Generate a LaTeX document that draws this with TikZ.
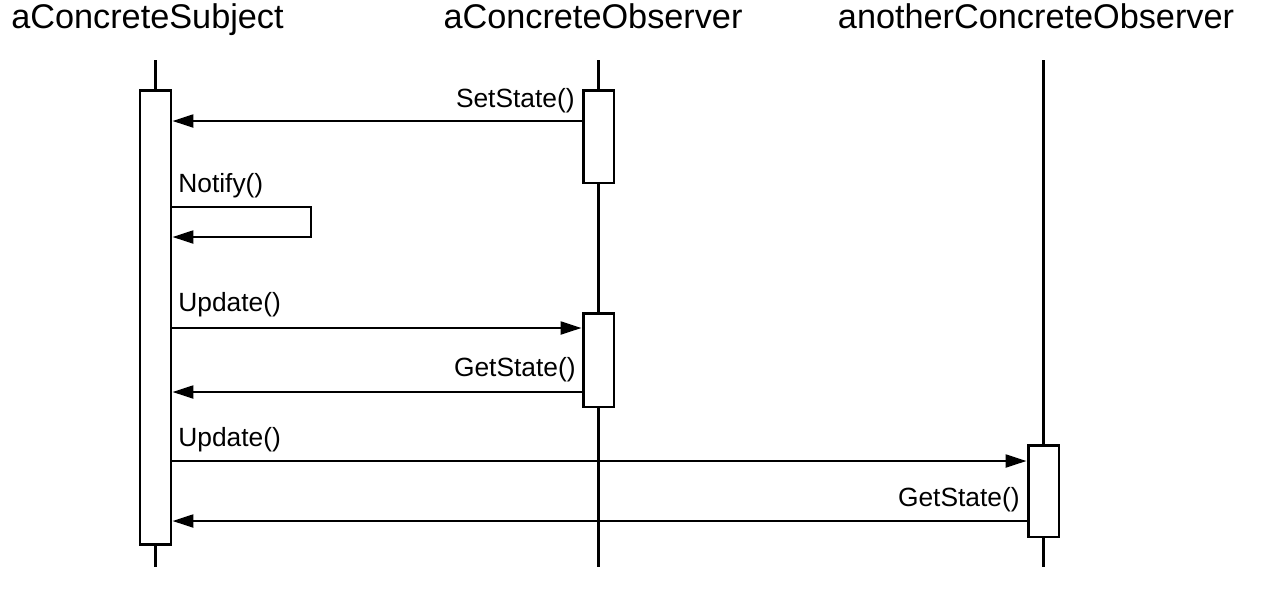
\documentclass[tikz,border=0pt]{standalone}
\usepackage{fontspec}
\setmainfont{Liberation Sans}
\usetikzlibrary{arrows.meta}
\begin{document}
\begin{tikzpicture}[x=0.02cm,y=-0.02cm,
  life/.style={line width=1.3pt},
  actbox/.style={draw,fill=white,line width=1.7pt,minimum width=0.62cm,inner sep=0pt},
  msg/.style={line width=1.3pt,-{Triangle[length=4.2mm,width=2.6mm]}},
  objname/.style={font=\fontsize{19.5}{23}\selectfont,anchor=base,inner sep=0pt},
  lbl/.style={font=\fontsize{15}{18}\selectfont,inner sep=0pt}]
\useasboundingbox (0,0) rectangle (1262,593);
% object names
\node[objname] (nsubj) at (147.5,28) {aConcreteSubject};
\node[objname] (nobs) at (593,28) {aConcreteObserver};
\node[objname] (nanother) at (1036,28) {anotherConcreteObserver};
% lifelines
\coordinate (subjtop) at (155.5,60);
\coordinate (subjbot) at (155.5,567);
\coordinate (obstop) at (598.5,60);
\coordinate (obsbot) at (598.5,567);
\coordinate (anotop) at (1043.5,60);
\coordinate (anobot) at (1043.5,567);
\draw[life] (subjtop) -- (subjbot);
\draw[life] (obstop) -- (obsbot);
\draw[life] (anotop) -- (anobot);
% activations
\node[actbox,minimum height=9.1cm] (subj) at (155.5,317.5) {};
\node[actbox,minimum height=1.86cm] (obsA) at (598.5,136.5) {};
\node[actbox,minimum height=1.88cm] (obsB) at (598.5,360) {};
\node[actbox,minimum height=1.84cm] (ano) at (1043.5,491) {};
% messages
\draw[msg] (obsA.west |- 0,121) -- (subj.east |- 0,121);
\node[lbl,anchor=base east] (lset) at (575,107) {SetState()};
\coordinate (nfy) at (311,207);
\coordinate (nfyb) at (311,237);
\draw[msg] (subj.east |- nfy) -- (nfy) -- (nfyb) -- (subj.east |- nfyb);
\node[lbl,anchor=base west] (lnfy) at (178,192) {Notify()};
\draw[msg] (subj.east |- 0,328) -- (obsB.west |- 0,328);
\node[lbl,anchor=base west] (lupd) at (178,311) {Update()};
\draw[msg] (obsB.west |- 0,392) -- (subj.east |- 0,392);
\node[lbl,anchor=base east] (lget) at (576,376) {GetState()};
\draw[msg] (subj.east |- 0,461) -- (ano.west |- 0,461);
\node[lbl,anchor=base west] (lupdb) at (178,446) {Update()};
\draw[msg] (ano.west |- 0,521) -- (subj.east |- 0,521);
\node[lbl,anchor=base east] (lgetb) at (1020,506) {GetState()};
\end{tikzpicture}
\end{document}
